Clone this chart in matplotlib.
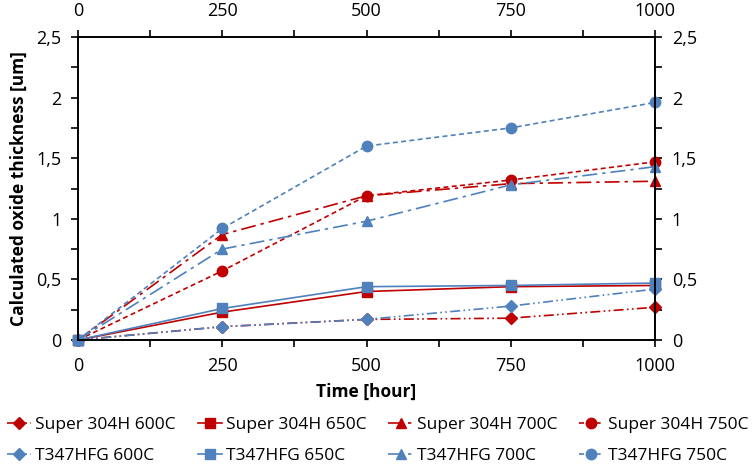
"""Calculated oxide thickness vs exposure time for Super 304H and T347HFG."""

import matplotlib.pyplot as plt
from matplotlib.ticker import FuncFormatter, MultipleLocator

plt.rcParams["font.family"] = ["Open Sans", "DejaVu Sans"]

hours = [0, 250, 500, 750, 1000]

s304_600 = [0, 0.11, 0.17, 0.18, 0.27]
s304_650 = [0, 0.23, 0.40, 0.44, 0.45]
s304_700 = [0, 0.87, 1.19, 1.29, 1.31]
s304_750 = [0, 0.57, 1.19, 1.32, 1.47]
t347_600 = [0, 0.11, 0.17, 0.28, 0.42]
t347_650 = [0, 0.26, 0.44, 0.45, 0.47]
t347_700 = [0, 0.75, 0.98, 1.28, 1.43]
t347_750 = [0, 0.92, 1.60, 1.75, 1.96]

RED = "#C00000"
BLUE = "#4F81BD"

styles = {
    "600C": ("D", (0, (6, 2, 1, 2, 1, 2))),
    "650C": ("s", "-"),
    "700C": ("^", (0, (9, 3, 2, 3))),
    "750C": ("o", (0, (3, 2))),
}

series = [
    ("Super 304H 600C", s304_600, RED, "600C"),
    ("Super 304H 650C", s304_650, RED, "650C"),
    ("Super 304H 700C", s304_700, RED, "700C"),
    ("Super 304H 750C", s304_750, RED, "750C"),
    ("T347HFG 600C", t347_600, BLUE, "600C"),
    ("T347HFG 650C", t347_650, BLUE, "650C"),
    ("T347HFG 700C", t347_700, BLUE, "700C"),
    ("T347HFG 750C", t347_750, BLUE, "750C"),
]

fig = plt.figure(figsize=(7.55, 4.69), dpi=100)
ax = fig.add_axes([78 / 755, 1 - 340 / 469, (655 - 78) / 755, (340 - 37) / 469])

lines = []
for label, vals, color, temp in series:
    marker, ls = styles[temp]
    ms = 6 if marker == "D" else 7.5
    ln, = ax.plot(hours, vals, color=color, linestyle=ls, linewidth=1.2,
                  marker=marker, markersize=ms, label=label, clip_on=False)
    lines.append(ln)

ax.set_xlim(0, 1000)
ax.set_ylim(0, 2.5)
ax.xaxis.set_major_locator(MultipleLocator(250))
ax.xaxis.set_minor_locator(MultipleLocator(125))
ax.yaxis.set_major_locator(MultipleLocator(0.5))
ax.yaxis.set_minor_locator(MultipleLocator(0.25))
ax.yaxis.set_major_formatter(FuncFormatter(lambda v, p: f"{v:g}".replace(".", ",")))

ax.tick_params(which="both", direction="out", top=True, right=True,
               labeltop=True, labelright=True, width=1.2, colors="black")
ax.tick_params(which="major", length=5, labelsize=13, pad=7)
ax.tick_params(which="minor", length=5)
for s in ax.spines.values():
    s.set_linewidth(1.4)

ax.set_xlabel("Time [hour]", fontsize=12.5, fontweight="bold", labelpad=6)
ax.set_ylabel("Calculated oxide thickness [um]", fontsize=12.5,
              fontweight="bold", labelpad=6)

# legend fills column-wise, so interleave to get the Super 304H row on top
order = [0, 4, 1, 5, 2, 6, 3, 7]
fig.legend([lines[i] for i in order], [series[i][0] for i in order],
           loc="lower center", ncol=4, frameon=False, fontsize=12.5,
           bbox_to_anchor=(0.5, -0.012), handlelength=1.4, handletextpad=0.25,
           columnspacing=1.25, labelspacing=0.85, borderaxespad=0.2)

fig.savefig("out.png", dpi=100)
